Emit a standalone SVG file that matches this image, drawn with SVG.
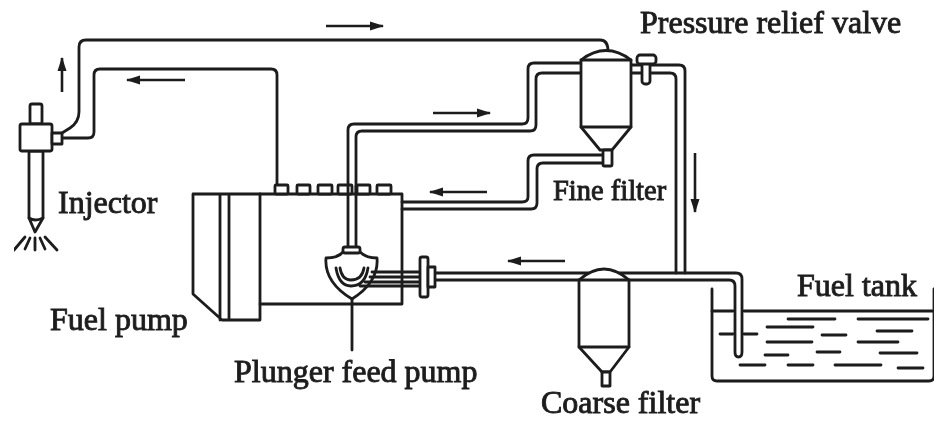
<svg xmlns="http://www.w3.org/2000/svg" width="936" height="421" viewBox="0 0 936 421">
<style>
.l{fill:none;stroke:#1c1c1c;stroke-width:2.8;stroke-linecap:round;stroke-linejoin:round}
.f{fill:#fff;stroke:#1c1c1c;stroke-width:2.8;stroke-linejoin:round}
.a{fill:none;stroke:#1c1c1c;stroke-width:2.6;marker-end:url(#ah)}
.t{font-family:"Liberation Serif","Times New Roman",serif;fill:#1c1c1c;stroke:#1c1c1c;stroke-width:.9}
</style>
<defs>
<marker id="ah" viewBox="0 0 14 10" refX="13" refY="5" markerWidth="14" markerHeight="10" markerUnits="userSpaceOnUse" orient="auto"><path d="M0 .5L14 5L0 9.500Z" fill="#1c1c1c"/></marker>
<filter id="soft" x="0" y="0" width="100%" height="100%"><feGaussianBlur stdDeviation="0.55"/></filter>
</defs>
<rect width="936" height="421" fill="#fff"/>
<g filter="url(#soft)">
<g id="connectors">
<path class="l" d="M62 133L70 128Q79 122 79 112V47Q79 40 86 40H600Q608 40 608 51"/>
<path class="l" d="M62 138H88Q94 138 94 132V75Q94 69 100 69H271Q277 69 277 75V185"/>
<path class="l" d="M348 247V130Q348 124 354 124H522Q528 124 528 118V69Q528 63 534 63H581"/>
<path class="l" d="M356 247V137Q356 131 362 131H530Q536 131 536 125V79Q536 73 542 73H581"/>
<path class="l" d="M603 155H534Q528 155 528 161V197Q528 202 522 202H402"/>
<path class="l" d="M603 163H543Q537 163 537 169V203Q537 209 531 209H402"/>
<path class="l" d="M631 65H679Q685 65 685 71V273"/>
<path class="l" d="M631 73H670Q676 73 676 79V273"/>
<path class="l" d="M434 273H736Q742 273 742 279V352Q742 357 738.500 357Q735 357 735 352V286Q735 280 729 280H434"/>
<path class="l" d="M352 297V350"/>
<path class="a" d="M326 26H383"/>
<path class="a" d="M62 92V58"/>
<path class="a" d="M185 80H127"/>
<path class="a" d="M433 113H490"/>
<path class="a" d="M487 192H430"/>
<path class="a" d="M695 153V212"/>
<path class="a" d="M565 261H508"/>
</g>
<g id="injector">
<rect class="f" x="30" y="104" width="12" height="20" rx="2"/>
<path class="f" d="M29 151V218L35 232L43 218V151Z"/>
<path class="l" d="M29 218Q35 222 43 218"/>
<rect class="f" x="20" y="124" width="32" height="27" rx="2"/>
<rect class="f" x="52" y="133" width="10" height="11"/>
<path class="l" d="M35 238V250M30 238L25 249M40 238L45 249M25 237L14 250M45 237L57 250"/>
<text class="t" x="58" y="213" font-size="32">Injector</text>
</g>
<g id="fuel-pump">
<path class="l" d="M260 194H193V294L222 320H260V194M220 194V320M229 194V320"/>
<path class="l" d="M260 194H402V304H260"/>
<rect class="f" x="275" y="185" width="13" height="9" rx="1"/>
<rect class="f" x="297" y="185" width="13" height="9" rx="1"/>
<rect class="f" x="318" y="185" width="14" height="9" rx="1"/>
<rect class="f" x="338" y="185" width="14" height="9" rx="1"/>
<rect class="f" x="357" y="185" width="13" height="9" rx="1"/>
<rect class="f" x="377" y="185" width="14" height="9" rx="1"/>
<path class="l" d="M348 186V194M356 186V194"/>
<text class="t" x="50" y="330" font-size="32">Fuel pump</text>
</g>
<g id="plunger-feed-pump">
<path class="f" d="M343 252Q338 258 326 258Q324 282 352 299Q379 282 377 258Q366 258 360 252Z"/>
<rect class="f" x="343" y="247" width="17" height="6" rx="2"/>
<path class="l" d="M336 268Q339 286 351 286Q365 286 368 268M340 268Q342 280 351 280Q362 280 364 268"/>
<path class="l" d="M372 272H420M370 277H420M365 282H420M360 286H420"/>
<rect class="f" x="420" y="257" width="8" height="40" rx="2"/>
<rect class="f" x="428" y="267" width="7" height="20"/>
<text class="t" x="234" y="382" font-size="32">Plunger feed pump</text>
</g>
<g id="fine-filter">
<path class="f" d="M581 60Q606 41 631 60V119L631 127L612 150H600L581 127Z"/>
<path class="l" d="M581 60H631M581 127H631"/>
<rect class="f" x="603" y="150" width="9" height="16" rx="1"/>
<text class="t" x="553" y="200" font-size="28.500">Fine filter</text>
</g>
<g id="pressure-relief-valve">
<rect class="f" x="642" y="62" width="8" height="22" rx="3"/>
<rect class="f" x="637" y="55" width="19" height="9" rx="3"/>
<text class="t" x="640" y="33" font-size="32">Pressure relief valve</text>
</g>
<g id="coarse-filter">
<path class="f" d="M579 280Q604 258 629 280V347L610 372H602L579 347Z"/>
<path class="l" d="M579 280H629M579 347H629"/>
<rect class="f" x="602" y="372" width="8" height="14"/>
<text class="t" x="541" y="413" font-size="32">Coarse filter</text>
</g>
<g id="fuel-tank">
<path class="l" d="M712 289V376Q712 381 717 381H929Q934 381 934 376V289"/>
<path class="l" d="M712 311H733M744 311H934"/>
<path class="l" d="M788 319H835M858 319H928M767 327H813M877 331H912M822 335H846M720 334H733M744 334H757M767 342H812M858 342H898M817 352H840M765 355H788M880 353H917M740 365H765M788 365H813M835 365H881M898 368H923"/>
<text class="t" x="797" y="296" font-size="32">Fuel tank</text>
</g>
</g>
</svg>
